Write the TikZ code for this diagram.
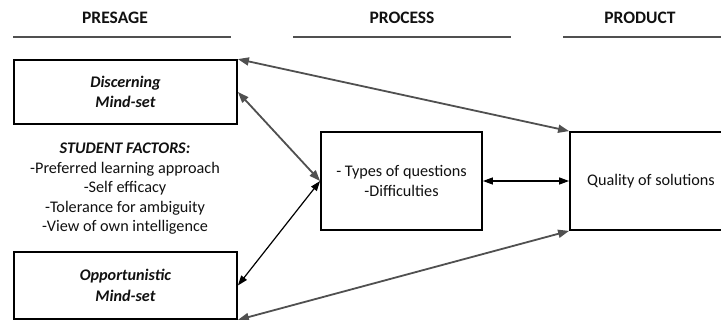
\documentclass[tikz,border=0pt]{standalone}
\usepackage{fontspec}
\setmainfont{Carlito}
\usetikzlibrary{arrows.meta}
\definecolor{arrowgray}{HTML}{505050}
\definecolor{txt}{HTML}{111111}
\begin{document}
\begin{tikzpicture}[x=1pt,y=-1pt,
  box/.style={draw=black, line width=1.8pt, fill=white, align=center, inner sep=0pt, text=txt,
    font=\fontsize{16.2}{20.5}\selectfont},
  hdr/.style={font=\fontsize{17.5}{20}\selectfont\bfseries, text=txt, inner sep=0pt},
  hline/.style={draw=arrowgray, line width=1.5pt},
  grayarrow/.style={draw=arrowgray, line width=1.8pt, {Triangle[length=11pt,width=8pt]}-{Triangle[length=11pt,width=8pt]}},
  blackarrow/.style={draw=black, line width=1.2pt, {Triangle[length=10pt,width=7pt]}-{Triangle[length=10pt,width=7pt]}},
  plain/.style={font=\fontsize{16.2}{19.5}\selectfont, text=txt, align=center, inner sep=0pt}
]
\useasboundingbox (0,0) rectangle (721,320);
\clip (0,0) rectangle (721,320);
\fill[white] (0,0) rectangle (721,320);

% headers
\node[hdr] (h1) at (115,18) {PRESAGE};
\node[hdr] (h2) at (402,18) {PROCESS};
\node[hdr] (h3) at (640,18) {PRODUCT};
\coordinate (l1a) at (13,37); \coordinate (l1b) at (231,37);
\coordinate (l2a) at (293,37); \coordinate (l2b) at (511,37);
\coordinate (l3a) at (563,37); \coordinate (l3b) at (725,37);
\draw[hline] (l1a) -- (l1b);
\draw[hline] (l2a) -- (l2b);
\draw[hline] (l3a) -- (l3b);

% boxes
\node[box, minimum width=223pt, minimum height=64pt] (disc) at (125.5,92) {\textbf{\textit{Discerning}}\\\textbf{\textit{Mind-set}}};
\node[box, minimum width=223pt, minimum height=67pt] (opp) at (125.5,285.5) {\textbf{\textit{Opportunistic}}\\\textbf{\textit{Mind-set}}};
\node[box, minimum width=161pt, minimum height=98pt] (proc) at (401.5,181) {- Types of questions\\-Difficulties};
\node[box, minimum width=162pt, minimum height=98pt] (prod) at (651,181) {Quality of solutions};

% student factors
\node[plain] (sf) at (125,189) {\textbf{\textit{STUDENT FACTORS:}}\\-Preferred learning approach\\-Self efficacy\\-Tolerance for ambiguity\\-View of own intelligence};

% connectors
\draw[grayarrow] (disc.north east) -- (prod.north west);
\draw[grayarrow] (disc.east) -- (proc.west);
\draw[blackarrow] (opp.east) -- (proc.west);
\draw[blackarrow] (proc.east) -- (prod.west);
\draw[grayarrow] (opp.south east) -- (prod.south west);
\end{tikzpicture}
\end{document}
